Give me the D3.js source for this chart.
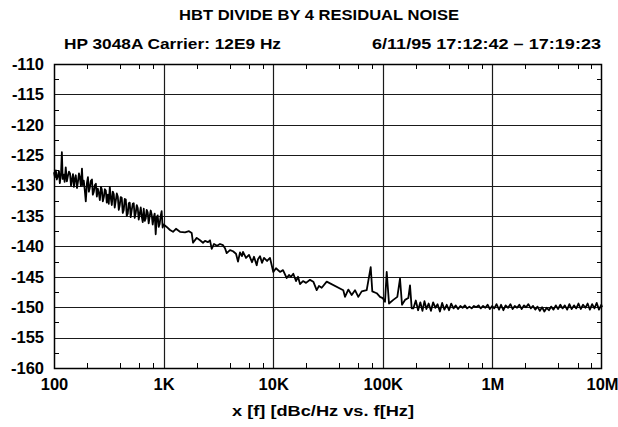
<!DOCTYPE html>
<html>
<head>
<meta charset="utf-8">
<script src="https://cdn.jsdelivr.net/npm/d3@7"></script>
<style>
  html, body { margin: 0; padding: 0; background: #fff; }
  svg { display: block; }
  text { font-family: "Liberation Sans", Arial, Helvetica, sans-serif; font-weight: bold; fill: #000; }
</style>
</head>
<body>
<svg id="chart" width="618" height="427"></svg>
<script>
// ---- Data ----
const titleText = "HBT DIVIDE BY 4 RESIDUAL NOISE";
const subLeft = "HP 3048A Carrier: 12E9 Hz";
const subRight = "6/11/95 17:12:42 \u2013 17:19:23";
const xAxisTitle = "x [f] [dBc/Hz vs. f[Hz]";

const xTickValues = [100, 1e3, 1e4, 1e5, 1e6, 1e7];
const xTickLabels = ["100", "1K", "10K", "100K", "1M", "10M"];
const xMinorMultipliers = [2, 4, 6, 8];
const yTickValues = [-110, -115, -120, -125, -130, -135, -140, -145, -150, -155, -160];
const yTickLabels = ["-110", "-115", "-120", "-125", "-130", "-135", "-140", "-145", "-150", "-155", "-160"];
const yMinorValues = [-112.5, -117.5, -122.5, -127.5, -132.5, -137.5, -142.5, -147.5, -152.5, -157.5];

// frequency offsets (Hz) and single-sideband residual phase noise (dBc/Hz)
const freqHz = [
  100, 102, 104, 106, 109, 111, 113, 116, 118, 120, 123, 125, 128, 131, 134, 137, 140, 143, 146, 149,
  152, 155, 158, 162, 165, 169, 172, 176, 180, 183, 187, 191, 195, 200, 204, 208, 212, 217, 222, 226,
  231, 236, 241, 246, 251, 257, 262, 268, 273, 279, 285, 291, 297, 303, 310, 316, 323, 330, 337, 344,
  351, 358, 366, 374, 382, 390, 398, 406, 415, 424, 433, 442, 452, 461, 471, 481, 491, 501, 512, 523,
  534, 545, 557, 569, 581, 593, 606, 619, 632, 645, 659, 673, 687, 701, 716, 731, 747, 763, 779, 795,
  812, 829, 847, 865, 883, 902, 921, 940, 960, 980, 1000,
  1067, 1144, 1218, 1297, 1411, 1568, 1705, 1805, 1855, 2005, 2149, 2288, 2386, 2542, 2651, 2748,
  2884, 3071, 3270, 3483, 3634, 3764, 4035, 4298, 4577, 4773, 4979, 5192, 5303, 5648, 6015, 6406,
  6679, 7070, 7266, 7578, 7903, 8245, 8780, 9350, 10020,
  10605, 11535, 12290, 13284, 13940, 14538, 15256, 16144, 16842, 17560, 18707, 19927, 21668, 23224,
  24945, 26178, 27703, 30772, 43608, 45194, 48442, 52031, 55766, 59770, 64210, 71311, 77558, 80214,
  87979, 94300, 99800, 104740, 108550, 113930, 124680, 135660, 143540, 149720, 159470, 170900,
  177100, 183530,
  190e3, 200e3, 210e3, 220e3, 230e3, 240e3, 250e3, 262e3, 275e3, 288e3, 302e3, 316e3, 332e3, 348e3,
  365e3, 383e3, 402e3, 421e3, 442e3, 463e3, 486e3, 510e3, 535e3, 561e3, 588e3, 617e3, 647e3, 679e3,
  712e3, 747e3, 783e3, 822e3, 862e3, 904e3, 948e3, 995e3, 1.04e6, 1.09e6, 1.15e6, 1.2e6, 1.26e6,
  1.32e6, 1.39e6, 1.46e6, 1.53e6, 1.6e6, 1.68e6, 1.76e6, 1.85e6, 1.94e6, 2.03e6, 2.13e6, 2.24e6,
  2.35e6, 2.46e6, 2.58e6, 2.71e6, 2.84e6, 2.98e6, 3.13e6, 3.28e6, 3.44e6, 3.61e6, 3.79e6, 3.97e6,
  4.17e6, 4.37e6, 4.58e6, 4.81e6, 5.04e6, 5.29e6, 5.55e6, 5.82e6, 6.1e6, 6.4e6, 6.72e6, 7.05e6,
  7.39e6, 7.75e6, 8.13e6, 8.53e6, 8.95e6, 9.39e6, 9.85e6, 10e6
];
const noiseDb = [
  -127.8, -128.6, -127.5, -129.0, -128.3, -127.6, -129.6, -127.9, -124.5, -128.9, -128.2, -129.4, -127.0, -129.3, -128.4, -127.7, -128.0, -130.0, -129.0, -128.1,
  -130.2, -128.9, -128.3, -130.4, -129.5, -128.0, -128.6, -130.1, -127.2, -129.9, -129.2, -130.8, -132.6, -129.5, -128.6, -131.0, -130.4, -129.2, -129.0, -131.5,
  -131.0, -129.9, -129.7, -131.8, -130.5, -131.3, -132.4, -130.2, -130.6, -132.6, -131.9, -130.6, -130.8, -132.8, -131.5, -133.0, -130.2, -132.1, -133.2, -131.0,
  -131.4, -133.6, -132.5, -131.3, -131.8, -134.0, -133.2, -131.9, -132.0, -134.5, -134.0, -132.2, -132.3, -135.0, -134.6, -132.9, -132.8, -135.2, -134.0, -133.0,
  -132.9, -135.3, -134.5, -133.2, -133.7, -135.6, -134.6, -133.6, -135.1, -136.0, -133.8, -135.8, -135.4, -134.0, -134.4, -136.2, -135.0, -134.1, -134.8, -136.4,
  -135.3, -134.6, -138.0, -135.2, -134.9, -136.8, -136.3, -135.0, -134.2, -136.9, -136.4,
  -136.8, -137.3, -137.6, -137.1, -137.6, -137.7, -137.5, -137.8, -139.4, -138.6, -139.0, -139.4, -139.1, -139.3, -139.0, -140.4,
  -139.6, -139.9, -139.6, -139.8, -140.3, -141.1, -140.6, -140.8, -141.2, -142.5, -141.0, -141.6, -140.9, -141.9, -141.4, -142.6,
  -141.7, -143.1, -142.1, -141.6, -142.7, -141.9, -142.4, -141.9, -144.2,
  -143.6, -144.2, -143.9, -145.2, -144.7, -145.0, -144.5, -145.7, -145.0, -146.2, -145.7, -146.0, -145.5, -145.8,
  -147.2, -146.5, -146.8, -145.8, -147.2, -148.3, -147.1, -148.0, -147.2, -148.3, -147.4, -147.2, -143.4, -147.4,
  -147.7, -148.3, -148.5, -149.1, -144.2, -149.4, -148.8, -148.3, -145.3, -149.6, -148.8, -148.5,
  -146.4, -150.2,
  -150.2, -148.9, -150.5, -149.2, -150.6, -149.0, -150.3, -149.4, -150.6, -149.2, -150.1, -149.5, -150.7, -149.3,
  -150.4, -149.6, -150.5, -149.4, -150.2, -149.7, -150.3, -149.8, -150.1, -149.7, -150.2, -149.9, -150.2, -149.8,
  -150.0, -149.7, -150.2, -149.8, -150.1, -149.6, -150.3, -149.8, -150.2, -149.5, -150.4, -149.6, -150.5,
  -149.7, -150.1, -149.5, -150.3, -149.8, -150.1, -149.6, -150.3, -149.7, -150.0, -149.5, -150.2,
  -149.8, -150.4, -149.9, -150.6, -150.0, -150.7, -150.1, -150.5, -149.9, -150.4, -149.7, -150.3,
  -149.6, -150.2, -149.7, -150.4, -149.5, -150.3, -149.7, -150.2, -149.4, -150.3, -149.6, -150.1,
  -149.4, -150.4, -149.5, -150.2, -149.3, -150.4, -149.6, -150.0
];

// ---- Layout ----
const plot = { left: 54, top: 64, right: 602, bottom: 368 };

const svg = d3.select("#chart");
const x = d3.scaleLog().domain([100, 1e7]).range([plot.left, plot.right]);
const y = d3.scaleLinear().domain([-160, -110]).range([plot.bottom, plot.top]);

const gridColor = "#1a1a1a";
const px = v => Math.round(v) + 0.5;

// grid lines
const grid = svg.append("g");
grid.selectAll("line.hg").data(yTickValues.slice(1, -1)).join("line")
  .attr("x1", plot.left).attr("x2", plot.right)
  .attr("y1", d => px(y(d))).attr("y2", d => px(y(d)))
  .attr("stroke", gridColor).attr("stroke-width", 1.2);
grid.selectAll("line.vg").data(xTickValues.slice(1, -1)).join("line")
  .attr("y1", plot.top).attr("y2", plot.bottom)
  .attr("x1", d => px(x(d))).attr("x2", d => px(x(d)))
  .attr("stroke", gridColor).attr("stroke-width", 1.2);

// minor ticks
const minorX = [];
[100, 1e3, 1e4, 1e5, 1e6].forEach(dec => xMinorMultipliers.forEach(m => minorX.push(dec * m)));
const tickLen = 5;
grid.selectAll("line.mxb").data(minorX).join("line")
  .attr("x1", d => px(x(d))).attr("x2", d => px(x(d)))
  .attr("y1", plot.bottom).attr("y2", plot.bottom - tickLen).attr("stroke", "#000");
grid.selectAll("line.mxt").data(minorX).join("line")
  .attr("x1", d => px(x(d))).attr("x2", d => px(x(d)))
  .attr("y1", plot.top).attr("y2", plot.top + tickLen).attr("stroke", "#000");
grid.selectAll("line.myl").data(yMinorValues).join("line")
  .attr("x1", plot.left).attr("x2", plot.left + tickLen)
  .attr("y1", d => px(y(d))).attr("y2", d => px(y(d))).attr("stroke", "#000");
grid.selectAll("line.myr").data(yMinorValues).join("line")
  .attr("x1", plot.right - tickLen).attr("x2", plot.right)
  .attr("y1", d => px(y(d))).attr("y2", d => px(y(d))).attr("stroke", "#000");

// data line
const pts = freqHz.map((f, i) => [f, noiseDb[i]]);
svg.append("path")
  .datum(pts)
  .attr("fill", "none")
  .attr("stroke", "#000")
  .attr("stroke-width", 1.8)
  .attr("stroke-linejoin", "round")
  .attr("d", d3.line().x(d => x(d[0])).y(d => y(d[1])));

// frame
svg.append("rect")
  .attr("x", plot.left + 0.5).attr("y", plot.top + 0.5)
  .attr("width", plot.right - plot.left - 1).attr("height", plot.bottom - plot.top)
  .attr("fill", "none").attr("stroke", "#000").attr("stroke-width", 1.5);

// axes labels via d3 axes
const xAxis = d3.axisBottom(x).tickValues(xTickValues)
  .tickFormat((d, i) => xTickLabels[i]).tickSize(0).tickPadding(0);
const gx = svg.append("g").attr("transform", `translate(0,${plot.bottom})`).call(xAxis);
gx.select(".domain").remove();
gx.selectAll("text").attr("dy", null).attr("y", 22).style("font-size", "16.5px")
  .style("font-family", '"Liberation Sans", Arial, sans-serif').style("font-weight", "bold");

const yAxis = d3.axisLeft(y).tickValues(yTickValues)
  .tickFormat((d, i) => yTickLabels[i]).tickSize(0).tickPadding(10);
const gy = svg.append("g").attr("transform", `translate(${plot.left},0)`).call(yAxis);
gy.select(".domain").remove();
gy.selectAll("text").style("font-size", "16.5px")
  .style("font-family", '"Liberation Sans", Arial, sans-serif').style("font-weight", "bold");

// titles (stretched to the reference's wide lettering)
function label(txt, xPos, yPos, anchor, size, width) {
  const t = svg.append("text").attr("x", xPos).attr("y", yPos).attr("text-anchor", anchor)
    .style("font-size", size + "px").text(txt);
  if (width) t.attr("textLength", width).attr("lengthAdjust", "spacingAndGlyphs");
  return t;
}
label(titleText, 319, 20, "middle", 15.5, 280);
label(subLeft, 64, 49, "start", 15.5, 217);
label(subRight, 601, 49, "end", 15.5, 229);
label(xAxisTitle, 323, 416, "middle", 15.5, 182);
</script>
</body>
</html>
